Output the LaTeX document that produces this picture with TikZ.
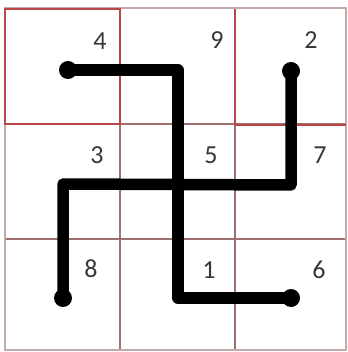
\documentclass[tikz,border=0pt]{standalone}
\usepackage{fontspec}
\setmainfont{Carlito}
\definecolor{gridc}{RGB}{160,112,112}
\definecolor{outc}{RGB}{195,170,170}
\definecolor{redc}{RGB}{185,70,70}
\definecolor{numc}{RGB}{55,55,55}
\begin{document}
\begin{tikzpicture}[x=1pt,y=-1pt,
  gridline/.style={draw=gridc,line width=1.3pt},
  outline/.style={draw=outc,line width=1.5pt},
  redline/.style={draw=redc,line width=1.3pt},
  pathline/.style={line width=11.5pt,line join=round,black},
  dotmark/.style={circle,fill=black,inner sep=0pt,minimum size=18pt},
  num/.style={font=\fontsize{26}{26}\selectfont,text=numc,inner sep=0pt}]
\useasboundingbox (0,0) rectangle (347,352);
% grid
\draw[gridline] (120,8) -- (120,350);
\draw[gridline] (235,8) -- (235,350);
\draw[gridline] (5,124) -- (346,124);
\draw[gridline] (5,239) -- (346,239);
\draw[outline] (5,8) rectangle (346,350);
\draw[redline] (5,9) rectangle (120,124);
\draw[redline] (235,9) -- (235,125) -- (346,125);
% numbers
\node[num] (n4) at (100,41) {4};
\node[num] (n9) at (217,40) {9};
\node[num] (n2) at (311,40) {2};
\node[num] (n3) at (97,155) {3};
\node[num] (n5) at (211,155) {5};
\node[num] (n7) at (320,155) {7};
\node[num] (n8) at (91,269) {8};
\node[num] (n1) at (209,270) {1};
\node[num] (n6) at (319,270) {6};
% path points
\coordinate (p4) at (68,70);
\coordinate (c1) at (178,70);
\coordinate (c2) at (178,298);
\coordinate (p6) at (291,298);
\coordinate (p2) at (291,71);
\coordinate (c3) at (291,185);
\coordinate (c4) at (63,184);
\coordinate (p8) at (63,298);
\draw[pathline] (p4) -- (c1) -- (c2) -- (p6);
\draw[pathline] (p2) -- (c3) -- (c4) -- (p8);
\node[dotmark] (d4) at (p4) {};
\node[dotmark] (d6) at (p6) {};
\node[dotmark] (d2) at (p2) {};
\node[dotmark] (d8) at (p8) {};
\end{tikzpicture}
\end{document}
